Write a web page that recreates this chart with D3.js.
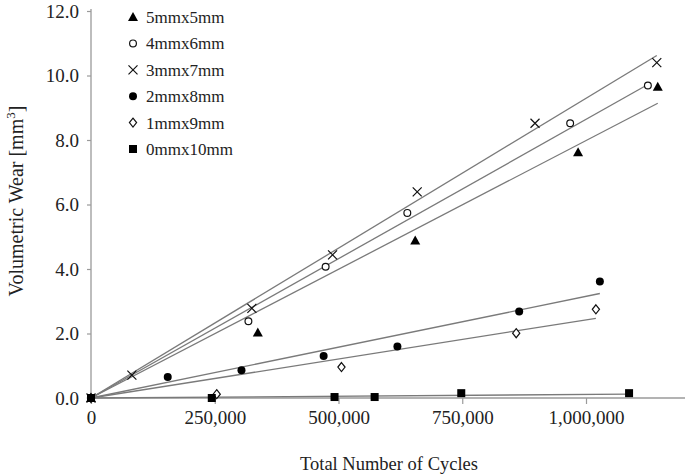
<!DOCTYPE html>
<html><head><meta charset="utf-8">
<script src="https://cdn.jsdelivr.net/npm/d3@7"></script>
<style>
html,body{margin:0;padding:0;background:#fff;}
svg text{font-family:"Liberation Serif","Times New Roman",serif;fill:#222;}
</style></head>
<body><svg id="c" width="688" height="474"></svg>
<script>
// ---- data ----
const seriesNames = ["5mmx5mm","4mmx6mm","3mmx7mm","2mmx8mm","1mmx9mm","0mmx10mm"];
const markerTypes = ["triangle","circleOpen","cross","circleFilled","diamondOpen","square"];
const s5x5 = [[0,0],[337000,2.03],[655000,4.88],[984000,7.62],[1145000,9.65]];
const s4x6 = [[0,0],[318000,2.38],[474000,4.07],[639000,5.74],[968000,8.52],[1125000,9.69]];
const s3x7 = [[0,0],[82600,0.71],[325000,2.78],[488000,4.44],[659000,6.39],[897000,8.52],[1143000,10.40]];
const s2x8 = [[0,0],[155000,0.65],[304000,0.86],[470000,1.30],[619000,1.60],[865000,2.68],[1028000,3.61]];
const s1x9 = [[0,0],[254000,0.12],[506000,0.96],[859000,2.01],[1020000,2.75]];
const s0x10 = [[0,0],[244000,0.0],[492000,0.03],[573000,0.03],[748000,0.15],[1087000,0.15]];
const seriesData = [s5x5,s4x6,s3x7,s2x8,s1x9,s0x10];
// linear trend lines through the origin: value at the last x of each series
const trendEndValues = [9.14,9.72,10.62,3.24,2.47,0.12];
const xTicks = [0,250000,500000,750000,1000000];
const yTicks = [0,2,4,6,8,10,12];

// ---- layout ----
const svg = d3.select("#c");
const x = d3.scaleLinear().domain([0,1200000]).range([91,685]);
const y = d3.scaleLinear().domain([0,12]).range([398,11]);
const axisColor = "#9a9a9a";

// axes
const gx = svg.append("g").attr("transform","translate(0,398)")
  .call(d3.axisBottom(x).tickValues(xTicks).tickSize(6).tickPadding(7)
    .tickFormat(d=>d3.format(",")(d)).tickSizeOuter(0));
const gy = svg.append("g").attr("transform","translate(91,0)")
  .call(d3.axisLeft(y).tickValues(yTicks).tickSize(4).tickPadding(8)
    .tickFormat(d3.format(".1f")).tickSizeOuter(0));
[gx,gy].forEach(g=>{
  g.select(".domain").attr("stroke",axisColor).attr("stroke-width",1.3);
  g.selectAll(".tick line").attr("stroke",axisColor).attr("stroke-width",1.2);
  g.selectAll(".tick text").style("font-size","19px").attr("fill","#222")
   .style("font-family",'"Liberation Serif",serif');
});
gx.select(".domain").attr("d","M91,0H685");
gy.select(".domain").attr("d","M0,398V9");

// titles
svg.append("text").attr("x",389).attr("y",470).attr("text-anchor","middle")
  .style("font-size","18.5px").text("Total Number of Cycles");
const yt = svg.append("text").attr("transform","translate(23,201) rotate(-90)")
  .attr("text-anchor","middle").style("font-size","20px");
yt.append("tspan").text("Volumetric Wear [mm");
yt.append("tspan").attr("dy",-8).style("font-size","13px").text("3");
yt.append("tspan").attr("dy",8).text("]");

// trend lines
seriesData.forEach((d,i)=>{
  const lastX = d3.max(d,p=>p[0]);
  svg.append("line")
    .attr("x1",x(0)).attr("y1",y(0))
    .attr("x2",x(lastX)).attr("y2",y(trendEndValues[i]))
    .attr("stroke","#7a7a7a").attr("stroke-width",1.3);
});

// marker drawing
function drawMarker(g, type, cx, cy){
  switch(type){
    case "triangle":
      g.append("path").attr("d",`M${cx},${cy-5}L${cx+5},${cy+4}L${cx-5},${cy+4}Z`).attr("fill","#000");break;
    case "circleOpen":
      g.append("circle").attr("cx",cx).attr("cy",cy).attr("r",3.4).attr("fill","#fff").attr("stroke","#111").attr("stroke-width",1.2);break;
    case "cross":
      g.append("path").attr("d",`M${cx-4.5},${cy-4.5}L${cx+4.5},${cy+4.5}M${cx+4.5},${cy-4.5}L${cx-4.5},${cy+4.5}`).attr("stroke","#111").attr("stroke-width",1.2);break;
    case "circleFilled":
      g.append("circle").attr("cx",cx).attr("cy",cy).attr("r",4).attr("fill","#000");break;
    case "diamondOpen":
      g.append("path").attr("d",`M${cx},${cy-4.5}L${cx+3.6},${cy}L${cx},${cy+4.5}L${cx-3.6},${cy}Z`).attr("fill","#fff").attr("stroke","#111").attr("stroke-width",1.2);break;
    case "square":
      g.append("rect").attr("x",cx-4).attr("y",cy-4).attr("width",8).attr("height",8).attr("fill","#000");break;
  }
}

const gm = svg.append("g");
seriesData.forEach((d,i)=>{
  d.forEach(p=>drawMarker(gm, markerTypes[i], x(p[0]), y(p[1])));
});

// legend
const legendY = d3.scalePoint().domain(seriesNames).range([17,149]);
seriesNames.forEach((n,i)=>{
  drawMarker(svg, markerTypes[i], 133, legendY(n));
  svg.append("text").attr("x",146).attr("y",legendY(n)).attr("dy","0.35em")
    .style("font-size","17px").text(n);
});
</script></body></html>
